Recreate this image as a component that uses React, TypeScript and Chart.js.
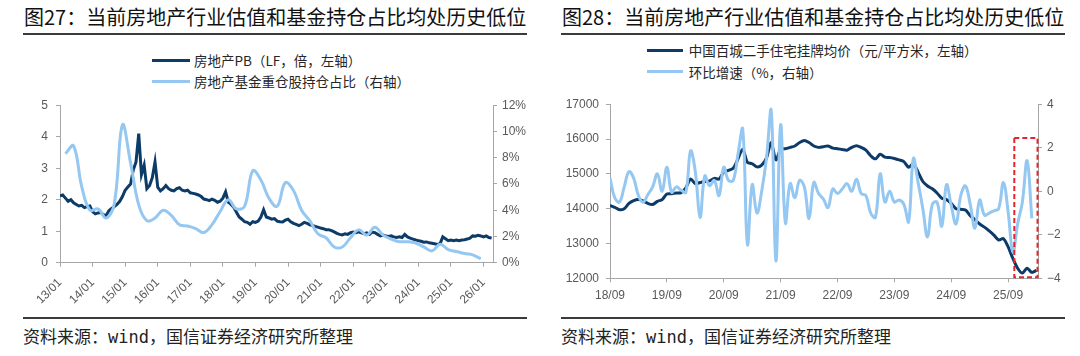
import React, { useEffect, useRef } from "react";
import { Chart, registerables } from "chart.js";

Chart.register(...registerables);

// ---------------- Text ----------------
const leftTitle = "图27：当前房地产行业估值和基金持仓占比均处历史低位";
const rightTitle = "图28：当前房地产行业估值和基金持仓占比均处历史低位";
const sourceText = "资料来源：wind，国信证券经济研究所整理";
const pbLabel = "房地产PB（LF，倍，左轴）";
const fundLabel = "房地产基金重仓股持仓占比（右轴）";
const priceLabel = "中国百城二手住宅挂牌均价（元/平方米，左轴）";
const momLabel = "环比增速（%，右轴）";

// ---------------- Left chart data ----------------
// x tick labels (yearly, January)
const leftXTicks = ["13/01", "14/01", "15/01", "16/01", "17/01", "18/01", "19/01", "20/01", "21/01", "22/01", "23/01", "24/01", "25/01", "26/01"];
// Real estate PB, monthly from 2013-01
const pbValues = [
  2.12, 2.15, 2.05, 1.95, 2.0, 1.9, 1.85, 1.8, 1.82, 1.75, 1.78, 1.8,
  1.62, 1.55, 1.58, 1.6, 1.52, 1.5, 1.65, 1.72, 1.78, 1.85, 1.95, 2.1,
  2.3, 2.4, 2.5, 2.95, 3.2, 4.1, 2.8, 3.1, 2.35, 2.45, 2.7, 3.2,
  2.4, 2.28, 2.35, 2.45, 2.35, 2.3, 2.28, 2.35, 2.38, 2.3, 2.28, 2.3,
  2.22, 2.2, 2.18, 2.15, 2.1, 2.02, 2.0, 1.97, 2.02, 1.98, 1.92, 1.95,
  2.05, 2.25, 1.92, 1.85, 1.76, 1.6, 1.45, 1.38, 1.3, 1.28, 1.22, 1.3,
  1.28, 1.32, 1.45, 1.68, 1.45, 1.42, 1.38, 1.4, 1.32, 1.3, 1.29, 1.35,
  1.38, 1.3, 1.25, 1.22, 1.18, 1.22, 1.28, 1.25, 1.2, 1.18, 1.15, 1.13,
  1.1, 1.08, 1.05, 1.05, 1.02, 0.98, 0.93, 0.9, 0.88, 0.92, 0.9, 0.95,
  0.97, 0.95, 0.98, 0.95, 0.92, 0.95, 0.9, 0.97, 0.95, 0.9, 0.85, 0.88,
  0.85, 0.83, 0.85, 0.82, 0.8, 0.82, 0.8, 0.9, 0.82, 0.78, 0.75, 0.72,
  0.7, 0.68, 0.65, 0.66, 0.63, 0.62, 0.6, 0.58, 0.6, 0.82, 0.76, 0.7,
  0.72, 0.7, 0.72, 0.7, 0.72, 0.73, 0.75, 0.78, 0.85, 0.84, 0.87, 0.85,
  0.82, 0.85, 0.8, 0.78,
];
// Fund heavy-holding share of real estate (%), quarterly from 2013Q1 (quarter-end months)
const fundValues = [
  8.3, 8.9, 5.8, 4.0, 4.1, 3.4, 4.5, 10.5,
  7.6, 4.4, 3.2, 3.4, 4.0, 3.6, 2.9, 2.8,
  2.6, 2.3, 2.9, 3.9, 4.8, 4.1, 4.3, 7.0,
  6.3, 4.9, 4.3, 6.1, 5.5, 4.0, 3.2, 2.2,
  1.9, 1.2, 1.2, 1.9, 2.5, 2.1, 2.7, 2.1,
  1.8, 1.6, 1.6, 1.5, 1.2, 0.9, 1.4, 1.0,
  0.85, 0.7, 0.6, 0.3,
];

// ---------------- Right chart data ----------------
const rightXTicks = ["18/09", "19/09", "20/09", "21/09", "22/09", "23/09", "24/09", "25/09"];
// Average listing price of second-hand homes, 100 cities (yuan/m2), monthly from 2018-09
const priceValues = [
  14090, 14040, 13970, 14000, 14150, 14230, 14260, 14220, 14150, 14120, 14210, 14260,
  14420, 14430, 14450, 14460, 14600, 14850, 14720, 14750, 14780, 14800, 14870, 14850,
  15050, 15100, 15160, 15430, 15710, 15330, 15290, 15200, 15250, 15450, 15900, 15400,
  15700, 15720, 15760, 15800, 15900, 15960, 15900, 15800, 15760, 15780, 15800, 15740,
  15720, 15700, 15680, 15760, 15810, 15760, 15680, 15520, 15430, 15560, 15480, 15470,
  15440, 15400, 15350, 15190, 15290, 15050, 14780, 14650, 14570, 14450, 14300, 14260,
  14150, 14000, 13980, 13960, 13800, 13680, 13560, 13470, 13360, 13240, 13100, 13140,
  12900, 12570, 12290, 12150, 12290, 12170, 12230,
];
// Month-on-month change (%), monthly from 2018-09
const momValues = [
  0.6, -0.3, -0.5, 0.2, 0.9, 0.6, -0.2, -0.5, -0.15, 0.2, 0.8, 0.0,
  1.1, -0.05, 0.2, 0.05, -0.05, 1.85, 0.9, -1.2, 0.7, 0.25, 0.5, -0.2,
  1.1, 0.5, 0.5, 1.7, 2.85, -2.45, 0.3, -1.0, 0.0, 1.5, 3.75, -3.2,
  3.05, -1.45, 0.35, -0.3, 0.5, 0.2, -1.25, 0.4, -0.1, -0.35, -0.75, 0.1,
  -0.1, 0.1, 0.35, 0.0, 0.55, -0.1, -0.2, -1.0, -1.2, 0.8, -0.5, 0.0,
  -0.5, -0.4, -0.6, -1.4, 1.5, 0.4, -0.8, -2.1, -0.6, -0.5, -1.6, 0.3,
  -0.65, -1.5, -0.2, 0.25, -0.6, -1.7, -0.4, -1.1, -1.0, -0.9, -0.8, 0.4,
  -0.95, -2.8, -1.5, -0.5, 1.4, -1.25,
];
// Highlighted recent period (months from 18/09, right-axis values)
const highlight = { xFrom: 85.3, xTo: 90.2, yTop: 2.45, yBottom: -3.95 };

// ---------------- Styles ----------------
const DARK = "#0d3b68";
const LIGHT = "#94c7f1";
const AXIS = "#a6a6a6";
const TICK_TEXT = "#595959";
const TICK_FONT = { family: "'Liberation Sans', Arial, sans-serif", size: 12 };
const CJK = "'Noto Sans CJK SC', 'Noto Sans', sans-serif";

Chart.defaults.font.family = "'Liberation Sans', Arial, sans-serif";

function axisBase(extra: any) {
  return {
    grid: { display: true, drawOnChartArea: false, drawTicks: true, tickLength: 4, color: AXIS },
    border: { display: true, color: AXIS, width: 1 },
    ...extra,
  };
}

function LeftChart() {
  const ref = useRef<HTMLCanvasElement | null>(null);
  useEffect(() => {
    if (!ref.current) return;
    const pbData = pbValues.map((v, i) => ({ x: i, y: v }));
    const fundData = fundValues.map((v, k) => ({ x: 2 + 3 * k, y: v }));
    const chart = new Chart(ref.current, {
      type: "line",
      data: {
        datasets: [
          { label: pbLabel, data: pbData, borderColor: DARK, borderWidth: 3, pointRadius: 0, tension: 0, yAxisID: "y", order: 1 },
          { label: fundLabel, data: fundData, borderColor: LIGHT, borderWidth: 3, pointRadius: 0, tension: 0.4, yAxisID: "y1", order: 0 },
        ],
      },
      options: {
        responsive: false,
        animation: false,
        devicePixelRatio: 1,
        layout: { padding: { top: 12.7, left: 0, right: 0, bottom: 0 } },
        plugins: { legend: { display: false }, tooltip: { enabled: false } },
        scales: {
          x: axisBase({
            type: "linear",
            min: 0,
            max: 159.5,
            afterBuildTicks: (axis: any) => {
              axis.ticks = leftXTicks.map((_, i) => ({ value: i * 12 }));
            },
            afterFit: (axis: any) => { axis.height = 52.3; },
            ticks: {
              autoSkip: false,
              minRotation: 45,
              maxRotation: 45,
              padding: 9,
              color: TICK_TEXT,
              font: TICK_FONT,
              callback: (v: any) => leftXTicks[Math.round(v / 12)],
            },
          }),
          y: axisBase({
            type: "linear",
            position: "left",
            min: 0,
            max: 5,
            afterFit: (axis: any) => { axis.width = 36; },
            ticks: { stepSize: 1, padding: 8, color: TICK_TEXT, font: TICK_FONT },
          }),
          y1: axisBase({
            type: "linear",
            position: "right",
            min: 0,
            max: 12,
            afterFit: (axis: any) => { axis.width = 34; },
            ticks: { stepSize: 2, padding: 5, color: TICK_TEXT, font: TICK_FONT, callback: (v: any) => v + "%" },
          }),
        },
      } as any,
    });
    return () => chart.destroy();
  }, []);
  return <canvas ref={ref} width={503} height={225} style={{ position: "absolute", left: 24, top: 90, width: 503, height: 225 }} />;
}

const boxPlugin = {
  id: "highlightBox",
  afterDatasetsDraw(chart: any) {
    const x = chart.scales.x;
    const y = chart.scales.y1;
    const ctx = chart.ctx;
    const l = x.getPixelForValue(highlight.xFrom);
    const r = x.getPixelForValue(highlight.xTo);
    const t = y.getPixelForValue(highlight.yTop);
    const b = y.getPixelForValue(highlight.yBottom);
    ctx.save();
    ctx.strokeStyle = "#e3262b";
    ctx.lineWidth = 2;
    ctx.setLineDash([5, 3]);
    ctx.strokeRect(l, t, r - l, b - t);
    ctx.restore();
  },
};

function RightChart() {
  const ref = useRef<HTMLCanvasElement | null>(null);
  useEffect(() => {
    if (!ref.current) return;
    const priceData = priceValues.map((v, i) => ({ x: i, y: v }));
    const momData = momValues.map((v, i) => ({ x: i, y: v }));
    const chart = new Chart(ref.current, {
      type: "line",
      data: {
        datasets: [
          { label: priceLabel, data: priceData, borderColor: DARK, borderWidth: 3, pointRadius: 0, tension: 0.3, yAxisID: "y", order: 1 },
          { label: momLabel, data: momData, borderColor: LIGHT, borderWidth: 3, pointRadius: 0, tension: 0.4, yAxisID: "y1", order: 0 },
        ],
      },
      options: {
        responsive: false,
        animation: false,
        devicePixelRatio: 1,
        layout: { padding: { top: 13.3, left: 0, right: 0, bottom: 0 } },
        plugins: { legend: { display: false }, tooltip: { enabled: false } },
        scales: {
          x: axisBase({
            type: "linear",
            min: 0,
            max: 90.3,
            afterBuildTicks: (axis: any) => {
              axis.ticks = rightXTicks.map((_, i) => ({ value: i * 12 }));
            },
            afterFit: (axis: any) => { axis.height = 31.7; },
            ticks: {
              autoSkip: false,
              maxRotation: 0,
              minRotation: 0,
              padding: 6,
              color: TICK_TEXT,
              font: TICK_FONT,
              callback: (v: any) => rightXTicks[Math.round(v / 12)],
            },
          }),
          y: axisBase({
            type: "linear",
            position: "left",
            min: 12000,
            max: 17000,
            afterFit: (axis: any) => { axis.width = 49; },
            ticks: { stepSize: 1000, padding: 7, color: TICK_TEXT, font: TICK_FONT, callback: (v: any) => String(v) },
          }),
          y1: axisBase({
            type: "linear",
            position: "right",
            min: -4,
            max: 4,
            afterFit: (axis: any) => { axis.width = 26; },
            ticks: {
              stepSize: 2,
              padding: 5,
              color: TICK_TEXT,
              font: TICK_FONT,
              callback: (v: any) => (v < 0 ? "\u2212" + Math.abs(v) : String(v)),
            },
          }),
        },
      } as any,
      plugins: [boxPlugin],
    });
    return () => chart.destroy();
  }, []);
  return <canvas ref={ref} width={503} height={220} style={{ position: "absolute", left: 561, top: 90, width: 503, height: 220 }} />;
}

function LegendRow(props: { x: number; y: number; lineW: number; gap: number; color: string; text: string }) {
  const { x, y, lineW, gap, color, text } = props;
  return (
    <div style={{ position: "absolute", left: x, top: y - 10, height: 20, display: "flex", alignItems: "center" }}>
      <div style={{ width: lineW, height: 3, background: color }} />
      <span style={{ marginLeft: gap, fontSize: 13.5, lineHeight: "20px", color: "#262626", whiteSpace: "nowrap", fontFamily: CJK }}>{text}</span>
    </div>
  );
}

function Title(props: { x: number; text: string }) {
  return (
    <div style={{ position: "absolute", left: props.x, top: 4, height: 26, lineHeight: "26px", fontSize: 20, fontWeight: 400, color: "#111", whiteSpace: "nowrap", fontFamily: CJK }}>
      {props.text}
    </div>
  );
}

function Rule(props: { x: number; y: number; w: number }) {
  return <div style={{ position: "absolute", left: props.x, top: props.y, width: props.w, height: 1.5, background: "#3a3a3a" }} />;
}

function Source(props: { x: number }) {
  return (
    <div style={{ position: "absolute", left: props.x, top: 326, height: 22, lineHeight: "22px", fontSize: 17, color: "#222", whiteSpace: "nowrap", fontFamily: "'DejaVu Sans Mono', 'Noto Sans CJK SC', monospace" }}>
      {sourceText}
    </div>
  );
}

export default function App() {
  return (
    <div style={{ position: "fixed", left: 0, top: 0, width: 1080, height: 356, background: "#fff", overflow: "hidden" }}>
      <Title x={24} text={leftTitle} />
      <Rule x={23} y={33} w={504} />
      <LegendRow x={151.5} y={60} lineW={38} gap={4.5} color={DARK} text={pbLabel} />
      <LegendRow x={151.5} y={81} lineW={38} gap={4.5} color={LIGHT} text={fundLabel} />
      <LeftChart />
      <Rule x={23} y={317} w={504} />
      <Source x={23} />

      <Title x={562} text={rightTitle} />
      <Rule x={561} y={33} w={504} />
      <LegendRow x={646.7} y={50} lineW={36} gap={6} color={DARK} text={priceLabel} />
      <LegendRow x={646.7} y={71.5} lineW={36} gap={6} color={LIGHT} text={momLabel} />
      <RightChart />
      <Rule x={561} y={317} w={504} />
      <Source x={561} />
    </div>
  );
}
